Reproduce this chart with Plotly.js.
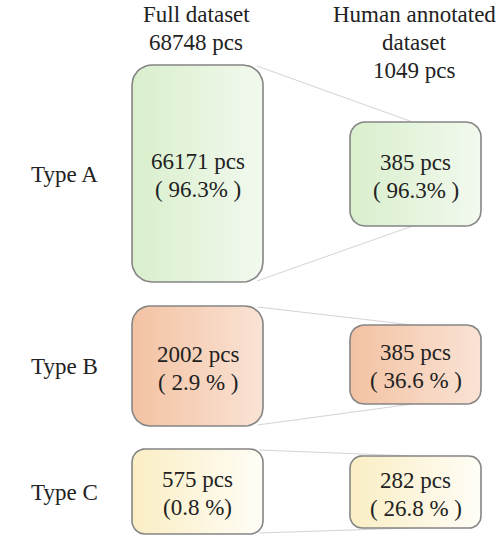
<!DOCTYPE html>
<html>
<head>
<meta charset="utf-8">
<script src="https://cdn.plot.ly/plotly-3.0.1.min.js"></script>
<style>
html,body{margin:0;padding:0;background:#fff;}
#chart{width:501px;height:557px;}
</style>
</head>
<body>
<div id="chart"></div>
<script>
// ---- data ----
const types = ['Type A', 'Type B', 'Type C'];
const fullTotal = 68748;
const annotatedTotal = 1049;
const fullCounts = [66171, 2002, 575];
const fullPctLabels = ['( 96.3% )', '( 2.9 % )', '(0.8 %)'];
const annotatedCounts = [385, 385, 282];
const annotatedPctLabels = ['( 96.3% )', '( 36.6 % )', '( 26.8 % )'];
const headerFullLines = ['Full dataset', fullTotal + ' pcs'];
const headerAnnotatedLines = ['Human annotated', 'dataset', annotatedTotal + ' pcs'];

// ---- layout geometry (diagram, not data) ----
const leftX = [132, 263];
const rightX = [350, 481];
const leftY = [[65, 282], [306, 426], [449, 534]];
const rightY = [[122, 226], [325, 404], [456, 528]];
const leftR = [20, 18, 13];
const rightR = [15, 14, 12];
const gradients = [
  ['#d9efcc', '#f2f9ee'],
  ['#f3c2a2', '#fae3d5'],
  ['#faeec4', '#fffdf6']
];
const FONT = 'Liberation Serif, Times New Roman, serif';
const TXT = '#222';
const FS = 23;
const LINE = 28;

function roundRect(x0, y0, x1, y1, r) {
  const xs = [], ys = [];
  const n = 10;
  const corners = [
    [x1 - r, y0 + r, -Math.PI / 2, 0],
    [x1 - r, y1 - r, 0, Math.PI / 2],
    [x0 + r, y1 - r, Math.PI / 2, Math.PI],
    [x0 + r, y0 + r, Math.PI, 1.5 * Math.PI]
  ];
  corners.forEach(([cx, cy, a0, a1]) => {
    for (let i = 0; i <= n; i++) {
      const a = a0 + (a1 - a0) * i / n;
      xs.push(cx + r * Math.cos(a));
      ys.push(cy + r * Math.sin(a));
    }
  });
  xs.push(xs[0]); ys.push(ys[0]);
  return {xs, ys};
}

const traces = [];
const annotations = [];

function label(x, y, text) {
  annotations.push({
    x: x, y: y, xref: 'x', yref: 'y', text: text, showarrow: false,
    xanchor: 'center', yanchor: 'middle',
    font: {family: FONT, size: FS, color: TXT}, align: 'center'
  });
}

// connecting lines
types.forEach((t, i) => {
  const lx = leftX[1] - leftR[i] * 0.3;
  const rx = (rightX[0] + rightX[1]) / 2 - 3;
  traces.push({
    x: [lx, rx, null, lx, rx],
    y: [leftY[i][0] + 1, rightY[i][0], null, leftY[i][1] - 1, rightY[i][1]],
    mode: 'lines', line: {color: '#d4d4d4', width: 1},
    hoverinfo: 'skip', showlegend: false
  });
});

function box(x0, x1, y0, y1, r, grad) {
  const rr = roundRect(x0, y0, x1, y1, r);
  traces.push({
    x: rr.xs, y: rr.ys, mode: 'lines', fill: 'toself',
    fillgradient: {type: 'horizontal', colorscale: [[0, grad[0]], [1, grad[1]]], start: x0, stop: x1},
    line: {color: '#858585', width: 1.6},
    hoverinfo: 'skip', showlegend: false
  });
}

types.forEach((t, i) => {
  box(leftX[0], leftX[1], leftY[i][0], leftY[i][1], leftR[i], gradients[i]);
  box(rightX[0], rightX[1], rightY[i][0], rightY[i][1], rightR[i], gradients[i]);
  const lcy = (leftY[i][0] + leftY[i][1]) / 2 + 2;
  const rcy = (rightY[i][0] + rightY[i][1]) / 2 + 2;
  const lcx = (leftX[0] + leftX[1]) / 2;
  const rcx = (rightX[0] + rightX[1]) / 2;
  label(lcx, lcy - LINE / 2, fullCounts[i] + ' pcs');
  label(lcx, lcy + LINE / 2, fullPctLabels[i]);
  label(rcx, rcy - LINE / 2, annotatedCounts[i] + ' pcs');
  label(rcx, rcy + LINE / 2, annotatedPctLabels[i]);
  label(64, (leftY[i][0] + leftY[i][1]) / 2 + 0.5, t);
});

headerFullLines.forEach((s, k) => label(196, 14 + k * LINE, s));
headerAnnotatedLines.forEach((s, k) => label(414, 14 + k * LINE, s));

const ax = {showgrid: false, zeroline: false, showticklabels: false, showline: false, ticks: '', fixedrange: true};
const layout = {
  width: 501, height: 557,
  margin: {l: 0, r: 0, t: 0, b: 0},
  paper_bgcolor: '#fff', plot_bgcolor: '#fff',
  font: {family: FONT},
  xaxis: Object.assign({range: [0, 501]}, ax),
  yaxis: Object.assign({range: [557, 0]}, ax),
  annotations: annotations,
  showlegend: false
};
Plotly.newPlot('chart', traces, layout, {displayModeBar: false, staticPlot: true});
</script>
</body>
</html>
